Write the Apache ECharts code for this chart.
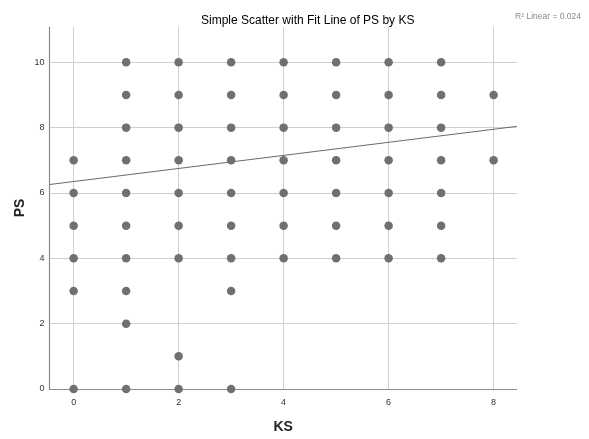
<!DOCTYPE html>
<html>
<head>
<meta charset="utf-8">
<script src="https://cdn.jsdelivr.net/npm/echarts@6/dist/echarts.min.js"></script>
<style>
html, body { margin: 0; padding: 0; background: #fff; }
#chart { width: 589px; height: 439px; }
</style>
</head>
<body>
<div id="chart"></div>
<script>
// KS / PS pairs, one column of PS values per KS value
var ksValues = [0, 1, 2, 3, 4, 5, 6, 7, 8];
var psByKs = [
	[7, 6, 5, 4, 3, 0],
	[10, 9, 8, 7, 6, 5, 4, 3, 2, 0],
	[10, 9, 8, 7, 6, 5, 4, 1, 0],
	[10, 9, 8, 7, 6, 5, 4, 3, 0],
	[10, 9, 8, 7, 6, 5, 4],
	[10, 9, 8, 7, 6, 5, 4],
	[10, 9, 8, 7, 6, 5, 4],
	[10, 9, 8, 7, 6, 5, 4],
	[9, 7]
];
var xTicks = [0, 2, 4, 6, 8];
var yTicks = [0, 2, 4, 6, 8, 10];
var fitIntercept = 6.35;
var fitSlope = 0.2;
var rSquared = '0.024';

var xMin = -0.46, xMax = 8.44;
var yMin = 0, yMax = 11.08;

var points = [];
for (var i = 0; i < ksValues.length; i++) {
	for (var j = 0; j < psByKs[i].length; j++) {
		points.push([ksValues[i], psByKs[i][j]]);
	}
}
// fit line across the whole x range
var fitLine = [
	[xMin, fitIntercept + fitSlope * xMin],
	[xMax, fitIntercept + fitSlope * xMax]
];

var chart = echarts.init(document.getElementById('chart'));
var option = {
	animation : false,
	title : [ {
		text : 'Simple Scatter with Fit Line of PS by KS',
		left : 196,
		top : 10,
		textStyle : {
			fontFamily : 'Liberation Sans',
			fontSize : 12,
			fontWeight : 'normal',
			color : '#000'
		}
	}, {
		text : 'R² Linear = ' + rSquared,
		right : 3,
		top : 7,
		textStyle : {
			fontFamily : 'Liberation Sans',
			fontSize : 8.5,
			fontWeight : 'normal',
			color : '#8a8a8a'
		}
	} ],
	grid : {
		left : 49.5,
		right : 72.3,
		top : 27,
		bottom : 46.3
	},
	xAxis : {
		type : 'value',
		min : xMin,
		max : xMax,
		name : 'KS',
		nameLocation : 'middle',
		nameGap : 31,
		nameMoveOverlap : false,
		nameTextStyle : {
			fontFamily : 'Liberation Sans',
			fontSize : 14,
			fontWeight : 'bold',
			color : '#222'
		},
		axisLine : { onZero : false, lineStyle : { color : '#8c8c8c', width : 1.2 } },
		axisTick : { show : false, customValues : xTicks },
		axisLabel : {
			customValues : xTicks,
			fontFamily : 'Liberation Sans',
			fontSize : 9,
			color : '#333',
			margin : 9
		},
		splitLine : { show : true, lineStyle : { color : '#cfcfcf', width : 1 } }
	},
	yAxis : {
		type : 'value',
		min : yMin,
		max : yMax,
		name : 'PS',
		nameLocation : 'middle',
		nameGap : 22,
		nameMoveOverlap : false,
		nameTextStyle : {
			fontFamily : 'Liberation Sans',
			fontSize : 14,
			fontWeight : 'bold',
			color : '#222'
		},
		axisLine : { show : true, onZero : false, lineStyle : { color : '#8c8c8c', width : 1.2 } },
		axisTick : { show : false, customValues : yTicks },
		axisLabel : {
			customValues : yTicks,
			fontFamily : 'Liberation Sans',
			fontSize : 9,
			color : '#333',
			margin : 5
		},
		splitLine : { show : true, lineStyle : { color : '#cfcfcf', width : 1 } }
	},
	series : [ {
		name : 'PS',
		type : 'scatter',
		symbolSize : 8.5,
		itemStyle : { color : '#707070', opacity : 1 },
		data : points,
		z : 3
	}, {
		name : 'Fit',
		type : 'line',
		symbol : 'none',
		lineStyle : { color : '#6a6a6a', width : 1 },
		data : fitLine,
		z : 2
	} ]
};
chart.setOption(option);
</script>
</body>
</html>
